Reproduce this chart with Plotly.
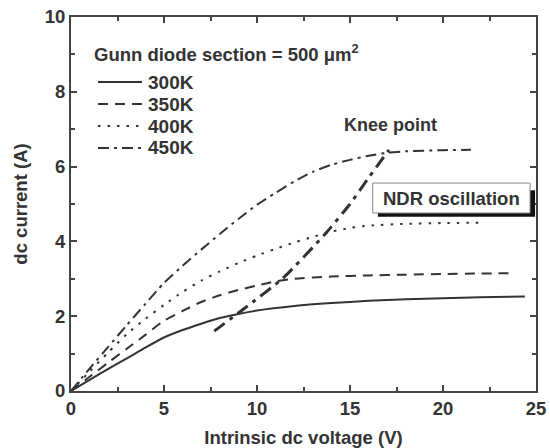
import plotly.graph_objects as go

# ---- data ----
x300 = [0, 1, 2, 3, 4, 5, 6, 7, 8, 9, 10, 12, 14, 16, 18, 20, 22, 24.4]
y300 = [0, 0.30, 0.59, 0.87, 1.16, 1.43, 1.63, 1.80, 1.95, 2.06, 2.15, 2.27, 2.35, 2.41, 2.45, 2.48, 2.51, 2.53]

x350 = [0, 1, 2, 3, 4, 5, 6, 7, 8, 9, 10, 11, 12, 14, 16, 18, 20, 22, 23.8]
y350 = [0, 0.38, 0.76, 1.13, 1.50, 1.88, 2.14, 2.38, 2.56, 2.70, 2.82, 2.93, 3.00, 3.06, 3.09, 3.11, 3.13, 3.14, 3.15]

x400 = [0, 1, 2, 3, 4, 5, 6, 7, 8, 9, 10, 11, 12, 13, 14, 15, 16, 18, 20, 22]
y400 = [0, 0.52, 1.03, 1.52, 1.93, 2.30, 2.65, 2.95, 3.20, 3.42, 3.62, 3.80, 3.97, 4.12, 4.26, 4.36, 4.42, 4.47, 4.49, 4.50]

x450 = [0, 1, 2, 3, 4, 5, 6, 7, 8, 9, 10, 11, 12, 13, 14, 15, 16, 17, 18, 20, 21.5]
y450 = [0, 0.60, 1.18, 1.76, 2.33, 2.89, 3.35, 3.78, 4.20, 4.60, 4.98, 5.30, 5.60, 5.86, 6.05, 6.18, 6.29, 6.37, 6.41, 6.44, 6.45]

xknee = [7.7, 9.3, 11.4, 13.7, 15.0, 16.0, 17.1]
yknee = [1.6, 2.2, 3.02, 4.22, 5.0, 5.7, 6.45]

series = [
    ("300K", x300, y300, "solid"),
    ("350K", x350, y350, "10px,7px"),
    ("400K", x400, y400, "2.5px,7px"),
    ("450K", x450, y450, "11px,5px,3px,5px"),
]

x_ticks = [0, 5, 10, 15, 20, 25]
y_ticks = [0, 2, 4, 6, 8, 10]

# ---- figure geometry ----
W, H = 550, 448
ML, MR, MT, MB = 71, 14, 17, 57
PW, PH = W - ML - MR, H - MT - MB

def px(xp):
    return (xp - ML) / PW

def py(yp):
    return (H - MB - yp) / PH

INK = "#333333"
FONT = "Liberation Sans, Arial, sans-serif"

fig = go.Figure()
for name, xs, ys, dash in series:
    fig.add_trace(go.Scatter(
        x=xs, y=ys, name=name, mode="lines", showlegend=False,
        line=dict(color=INK, width=2, dash=dash, shape="spline", smoothing=0.6),
    ))

fig.add_trace(go.Scatter(
    x=xknee, y=yknee, name="Knee point", mode="lines", showlegend=False,
    line=dict(color=INK, width=3, dash="13px,6px,4px,6px", shape="spline", smoothing=0.6),
))

shapes = []
annotations = []

# manual legend
legend_rows = [82, 104, 126, 148]
for (name, _, _, dash), yr in zip(series, legend_rows):
    shapes.append(dict(type="line", xref="paper", yref="paper",
                       x0=px(98), x1=px(142), y0=py(yr), y1=py(yr),
                       line=dict(color=INK, width=2, dash=dash)))
    annotations.append(dict(xref="paper", yref="paper", x=px(146), y=py(yr),
                            xanchor="left", yanchor="middle", showarrow=False,
                            text=name, font=dict(size=19, color=INK, family=FONT, weight="bold")))

annotations.append(dict(xref="paper", yref="paper", x=px(92), y=py(53),
                        xanchor="left", yanchor="middle", showarrow=False,
                        text="Gunn diode section = 500 \u03bcm<sup>2</sup>",
                        font=dict(size=18.5, color=INK, family=FONT, weight="bold")))

# knee point label
annotations.append(dict(x=17.2, y=7.1, xref="x", yref="y", showarrow=False,
                        text="Knee point",
                        font=dict(size=18, color=INK, family=FONT, weight="bold")))

# NDR oscillation box with shadow
shapes.append(dict(type="rect", xref="x", yref="y", x0=16.5, x1=24.95, y0=4.66, y1=5.37,
                   line=dict(width=0), fillcolor="#111111", layer="above"))
shapes.append(dict(type="rect", xref="x", yref="y", x0=16.22, x1=24.68, y0=4.76, y1=5.56,
                   line=dict(width=1, color="#8a8a8a"), fillcolor="white", layer="above"))
annotations.append(dict(x=20.45, y=5.16, xref="x", yref="y", showarrow=False,
                        text="NDR oscillation",
                        font=dict(size=18.5, color=INK, family=FONT, weight="bold")))

axis_common = dict(
    showgrid=False, zeroline=False, showline=True, linewidth=2, linecolor="#444444",
    mirror="ticks", ticks="inside", ticklen=6, tickwidth=2, tickcolor="#444444",
    tickfont=dict(size=18.5, color=INK, family=FONT, weight="bold"),
    automargin=False,
)

fig.update_layout(
    width=W, height=H,
    margin=dict(l=ML, r=MR, t=MT, b=MB),
    paper_bgcolor="white", plot_bgcolor="white",
    font=dict(family=FONT, color=INK),
    shapes=shapes, annotations=annotations,
    xaxis=dict(range=[0, 25], tickvals=x_ticks, ticktext=[str(v) for v in x_ticks],
               minor=dict(dtick=2.5, ticks="inside", ticklen=4, tickwidth=1.5, tickcolor="#444444"),
               title=dict(text="Intrinsic dc voltage (V)", standoff=14,
                          font=dict(size=18.5, color=INK, family=FONT, weight="bold")),
               **axis_common),
    yaxis=dict(range=[0, 10], tickvals=y_ticks, ticktext=[str(v) for v in y_ticks],
               minor=dict(dtick=1, ticks="inside", ticklen=4, tickwidth=1.5, tickcolor="#444444"),
               title=dict(text="dc current (A)", standoff=12,
                          font=dict(size=18.5, color=INK, family=FONT, weight="bold")),
               **axis_common),
)

fig.write_html("out.html")
